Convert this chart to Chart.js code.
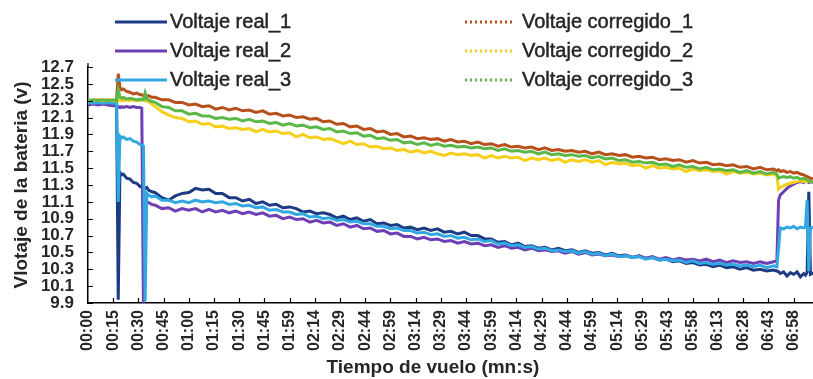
<!DOCTYPE html>
<html>
<head>
<meta charset="utf-8">
<script src="https://cdn.jsdelivr.net/npm/chart.js@4.4.1/dist/chart.umd.min.js"></script>
<style>
  html, body { margin: 0; padding: 0; background: #ffffff; }
  #wrap { width: 813px; height: 379px; position: relative; }
</style>
</head>
<body>
<div id="wrap"><canvas id="c" width="813" height="379"></canvas></div>
<script>
// Flight time axis (sample index, ~1 s per sample)
const tiempo = [
  0,3,6,9,12,15,17,18,19,20,21,23,25,27,29,31,32,33,34,35,36,38,
  40,44,48,52,56,60,64,68,72,76,80,84,88,92,96,100,104,108,112,116,
  120,124,128,132,136,140,144,148,152,156,160,164,168,172,176,180,184,188,192,196,
  200,204,208,212,216,220,224,228,232,236,240,244,248,252,256,260,264,268,272,276,
  280,284,288,292,296,300,304,308,312,316,320,324,328,332,336,340,344,348,352,356,
  360,364,368,372,376,380,384,388,392,396,400,404,408,
  410,411,412,414,416,418,420,422,424,426,427,428,429,430,432
];

// Measured battery voltage (V)
const voltajeReal1 = [
  12.27,12.28,12.27,12.28,12.27,12.26,12.26,9.94,11.45,11.42,11.43,11.38,11.37,11.33,11.32,11.28,11.29,11.27,11.26,11.27,11.24,11.22,
  11.21,11.15,11.12,11.17,11.20,11.21,11.26,11.24,11.25,11.20,
  11.20,11.15,11.15,11.11,11.13,11.08,11.10,11.06,11.07,11.03,
  11.04,11.02,10.98,10.99,10.96,10.97,10.95,10.91,10.93,10.89,
  10.91,10.87,10.89,10.84,10.85,10.82,10.83,10.79,10.80,10.77,
  10.79,10.76,10.78,10.74,10.75,10.72,10.74,10.70,10.70,10.66,
  10.66,10.62,10.63,10.59,10.61,10.57,10.58,10.55,10.56,10.53,
  10.55,10.52,10.53,10.50,10.52,10.49,10.50,10.47,10.49,10.46,
  10.47,10.44,10.46,10.43,10.44,10.41,10.42,10.39,10.40,10.37,
  10.38,10.35,10.36,10.33,10.35,10.32,10.33,10.30,10.32,10.29,
  10.30,10.28,10.29,
  10.28,10.27,10.25,10.27,10.22,10.26,10.24,10.27,10.21,10.25,10.23,10.26,11.22,10.24,10.26
];
const voltajeReal2 = [
  12.25,12.26,12.25,12.26,12.25,12.24,12.24,12.23,12.22,12.23,12.22,12.23,12.22,12.23,12.22,12.22,12.21,9.85,11.12,11.10,11.09,11.07,
  11.06,11.02,11.03,10.99,11.02,11.00,11.02,10.98,11.01,10.98,
  11.00,10.97,10.99,10.96,10.98,10.95,10.97,10.93,10.94,10.90,
  10.92,10.89,10.90,10.86,10.88,10.85,10.86,10.82,10.84,10.80,
  10.82,10.78,10.79,10.75,10.76,10.72,10.73,10.69,10.69,10.66,
  10.68,10.65,10.66,10.63,10.64,10.61,10.63,10.60,10.61,10.58,
  10.59,10.56,10.58,10.55,10.56,10.53,10.55,10.52,10.53,10.51,
  10.52,10.49,10.51,10.48,10.50,10.47,10.48,10.46,10.47,10.45,
  10.46,10.44,10.46,10.43,10.45,10.42,10.44,10.41,10.43,10.41,
  10.42,10.40,10.42,10.39,10.41,10.38,10.40,10.38,10.39,10.37,
  10.39,10.37,10.39,
  10.40,11.12,11.18,11.22,11.26,11.29,11.31,11.33,11.34,11.33,11.35,11.34,11.33,11.34,11.33
];
const voltajeReal3 = [
  12.28,12.27,12.28,12.27,12.28,12.27,12.27,11.10,11.88,11.86,11.87,11.84,11.85,11.82,11.81,11.78,11.77,11.76,9.92,11.20,11.18,11.16,
  11.17,11.12,11.12,11.09,11.11,11.09,11.12,11.10,11.11,11.09,
  11.10,11.07,11.08,11.05,11.06,11.03,11.04,11.00,11.01,10.98,
  10.98,10.95,10.96,10.92,10.93,10.90,10.91,10.88,10.89,10.86,
  10.87,10.84,10.84,10.81,10.81,10.78,10.79,10.76,10.76,10.73,
  10.74,10.71,10.72,10.69,10.70,10.67,10.68,10.65,10.66,10.63,
  10.64,10.60,10.61,10.58,10.59,10.56,10.57,10.54,10.55,10.52,
  10.53,10.51,10.52,10.49,10.51,10.48,10.49,10.46,10.48,10.45,
  10.46,10.44,10.45,10.42,10.44,10.41,10.42,10.40,10.41,10.38,
  10.40,10.37,10.38,10.36,10.37,10.35,10.36,10.34,10.35,10.33,
  10.35,10.32,10.34,
  10.33,10.55,10.79,10.78,10.80,10.79,10.81,10.78,10.80,10.79,10.80,11.12,10.28,10.79,10.80
];

// Voltage after load correction (V)
const voltajeCorr1 = [
  12.31,12.30,12.31,12.30,12.31,12.30,12.31,12.62,12.46,12.43,12.44,12.41,12.40,12.38,12.39,12.37,12.37,12.36,12.36,12.35,12.36,12.34,
  12.34,12.31,12.31,12.28,12.28,12.25,12.26,12.23,12.24,12.20,
  12.22,12.19,12.21,12.18,12.19,12.16,12.18,12.14,12.15,12.12,
  12.13,12.10,12.11,12.08,12.09,12.05,12.06,12.02,12.03,11.99,
  12.00,11.96,11.97,11.93,11.94,11.90,11.91,11.87,11.88,11.85,
  11.86,11.84,11.85,11.82,11.84,11.81,11.82,11.79,11.81,11.78,
  11.79,11.76,11.78,11.75,11.76,11.74,11.75,11.72,11.74,11.71,
  11.72,11.70,11.71,11.69,11.70,11.67,11.69,11.66,11.67,11.65,
  11.66,11.63,11.64,11.62,11.63,11.60,11.61,11.59,11.60,11.57,
  11.59,11.56,11.57,11.54,11.55,11.53,11.54,11.51,11.52,11.49,
  11.51,11.48,11.49,
  11.47,11.48,11.46,11.47,11.45,11.46,11.44,11.45,11.43,11.42,11.41,11.40,11.39,11.38,11.37
];
const voltajeCorr2 = [
  12.31,12.30,12.31,12.30,12.31,12.30,12.30,12.31,12.30,12.31,12.30,12.31,12.30,12.31,12.30,12.30,12.31,12.33,12.30,12.30,12.29,12.26,
  12.23,12.17,12.13,12.10,12.09,12.05,12.06,12.02,12.03,11.99,
  12.00,11.97,11.98,11.96,11.97,11.93,11.96,11.93,11.94,11.91,
  11.92,11.87,11.90,11.86,11.87,11.84,11.85,11.82,11.79,11.82,
  11.78,11.79,11.75,11.76,11.73,11.74,11.71,11.72,11.69,11.71,
  11.68,11.70,11.67,11.65,11.68,11.66,11.67,11.65,11.66,11.62,
  11.65,11.62,11.64,11.62,11.63,11.59,11.62,11.60,11.62,11.59,
  11.61,11.57,11.60,11.58,11.60,11.57,11.59,11.54,11.57,11.55,
  11.56,11.53,11.54,11.50,11.53,11.50,11.51,11.49,11.50,11.46,
  11.49,11.47,11.48,11.46,11.47,11.43,11.46,11.44,11.45,11.43,
  11.44,11.42,11.43,
  11.41,11.25,11.27,11.29,11.31,11.32,11.33,11.34,11.35,11.34,11.35,11.34,11.35,11.34,11.35
];
const voltajeCorr3 = [
  12.30,12.31,12.30,12.31,12.30,12.31,12.30,12.43,12.34,12.33,12.34,12.32,12.33,12.32,12.31,12.32,12.31,12.31,12.39,12.32,12.31,12.29,
  12.28,12.23,12.22,12.18,12.18,12.14,12.15,12.12,12.12,12.09,
  12.10,12.08,12.09,12.06,12.08,12.05,12.06,12.03,12.04,12.01,
  12.03,12.00,12.01,11.98,11.99,11.96,11.97,11.93,11.94,11.91,
  11.92,11.88,11.89,11.85,11.86,11.83,11.84,11.80,11.81,11.78,
  11.80,11.77,11.79,11.76,11.77,11.75,11.76,11.74,11.75,11.73,
  11.74,11.71,11.73,11.70,11.71,11.69,11.70,11.67,11.69,11.66,
  11.67,11.65,11.66,11.64,11.65,11.62,11.64,11.61,11.62,11.59,
  11.60,11.57,11.58,11.56,11.57,11.54,11.55,11.52,11.54,11.51,
  11.52,11.49,11.51,11.48,11.49,11.47,11.48,11.45,11.47,11.44,
  11.46,11.43,11.45,
  11.43,11.38,11.39,11.40,11.39,11.40,11.38,11.39,11.37,11.38,11.37,11.36,11.35,11.34,11.33
];

// Axis ticks
const xTickPos = [0,15,30,45,60,75,90,105,120,135,150,165,180,195,210,225,240,255,270,285,300,315,330,345,360,375,390,405,420];
const xTickLabels = ['00:00','00:15','00:30','00:45','01:00','01:15','01:30','01:45','01:59','02:14','02:29','02:44','02:59','03:14','03:29','03:44','03:59','04:14','04:29','04:44','04:59','05:14','05:29','05:43','05:58','06:13','06:28','06:43','06:58'];
const yTicks = [9.9,10.1,10.3,10.5,10.7,10.9,11.1,11.3,11.5,11.7,11.9,12.1,12.3,12.5,12.7];

const seriesNames = ['Voltaje real_1','Voltaje real_2','Voltaje real_3','Voltaje corregido_1','Voltaje corregido_2','Voltaje corregido_3'];
const seriesValues = [voltajeReal1, voltajeReal2, voltajeReal3, voltajeCorr1, voltajeCorr2, voltajeCorr3];
const seriesColors = ['#1d3b82','#6e3fb4','#32a8e2','#b8501c','#f5cf1a','#5bb848'];
const seriesDotted = [false,false,false,true,true,true];

const FONT = '"Liberation Sans", Arial, sans-serif';
const TEXT = '#262626';
Chart.defaults.font.family = FONT;

const datasets = seriesValues.map((vals, i) => ({
  label: seriesNames[i],
  data: tiempo.map((t, k) => ({ x: t, y: vals[k] })),
  borderColor: seriesColors[i],
  backgroundColor: seriesColors[i],
  borderWidth: 3,
  pointRadius: 0,
  tension: 0,
  fill: false,
  order: 6 - i
}));

// Tick marks inside the plot, the x axis title and the two-column legend
const decor = {
  id: 'decor',
  afterDraw(chart) {
    const { ctx, chartArea: a, scales: { x, y } } = chart;
    ctx.save();
    ctx.strokeStyle = '#000';
    ctx.lineWidth = 1.2;
    ctx.beginPath();
    ctx.moveTo(a.left, a.top - 4);
    ctx.lineTo(a.left, a.top);
    y.ticks.forEach(t => {
      const py = Math.round(y.getPixelForValue(t.value)) + 0.5;
      ctx.moveTo(a.left, py);
      ctx.lineTo(a.left + 5, py);
    });
    x.ticks.forEach(t => {
      if (t.value === 0) return;
      const px = Math.round(x.getPixelForValue(t.value)) + 0.5;
      ctx.moveTo(px, a.bottom);
      ctx.lineTo(px, a.bottom - 5);
    });
    ctx.stroke();

    ctx.fillStyle = TEXT;
    ctx.font = 'bold 19px ' + FONT;
    ctx.textAlign = 'center';
    ctx.textBaseline = 'middle';
    ctx.fillText('Tiempo de vuelo (mn:s)', 433, 368);

    const rows = [22, 51, 80];
    chart.data.datasets.forEach((ds, i) => {
      const col = i < 3 ? 0 : 1;
      const ly = rows[i % 3];
      const x0 = col === 0 ? 115 : 465;
      const x1 = col === 0 ? 167 : 515;
      const tx = col === 0 ? 170 : 522;
      ctx.beginPath();
      ctx.strokeStyle = ds.borderColor;
      ctx.lineWidth = 3;
      ctx.setLineDash(seriesDotted[i] ? [2, 3] : []);
      ctx.moveTo(x0, ly);
      ctx.lineTo(x1, ly);
      ctx.stroke();
      ctx.setLineDash([]);
      ctx.fillStyle = TEXT;
      ctx.strokeStyle = TEXT;
      ctx.lineWidth = 0.5;
      ctx.font = '20px ' + FONT;
      ctx.textAlign = 'left';
      ctx.fillText(ds.label, tx, ly);
      ctx.strokeText(ds.label, tx, ly);
    });
    ctx.restore();
  }
};

new Chart(document.getElementById('c'), {
  type: 'line',
  data: { datasets },
  plugins: [decor],
  options: {
    responsive: false,
    animation: false,
    devicePixelRatio: 1,
    layout: { padding: { top: 67, right: 0, bottom: 0, left: 0 } },
    plugins: { legend: { display: false }, tooltip: { enabled: false } },
    scales: {
      x: {
        type: 'linear',
        min: 0,
        max: 431.5,
        afterBuildTicks: s => { s.ticks = xTickPos.map(v => ({ value: v })); },
        afterFit: s => { s.height = 76; s.paddingRight = 0; s.paddingLeft = 0; },
        ticks: {
          autoSkip: false,
          minRotation: 90,
          maxRotation: 90,
          padding: 7,
          color: TEXT,
          font: { size: 16, weight: 'bold' },
          callback: v => xTickLabels[xTickPos.indexOf(v)]
        },
        grid: { display: false, drawTicks: false },
        border: { display: true, color: '#000', width: 1.5 }
      },
      y: {
        min: 9.9,
        max: 12.7,
        afterBuildTicks: s => { s.ticks = yTicks.map(v => ({ value: v })); },
        afterFit: s => { s.width = 88; },
        ticks: {
          autoSkip: false,
          padding: 14,
          color: TEXT,
          font: { size: 17, weight: 'bold', lineHeight: 1 },
          callback: v => v.toFixed(1)
        },
        grid: { display: false, drawTicks: false },
        border: { display: true, color: '#000', width: 1.5 },
        title: {
          display: true,
          text: 'Vlotaje de la bateria (v)',
          color: TEXT,
          font: { size: 19, weight: 'bold' },
          padding: { top: 10, bottom: 0 }
        }
      }
    }
  }
});
</script>
</body>
</html>
